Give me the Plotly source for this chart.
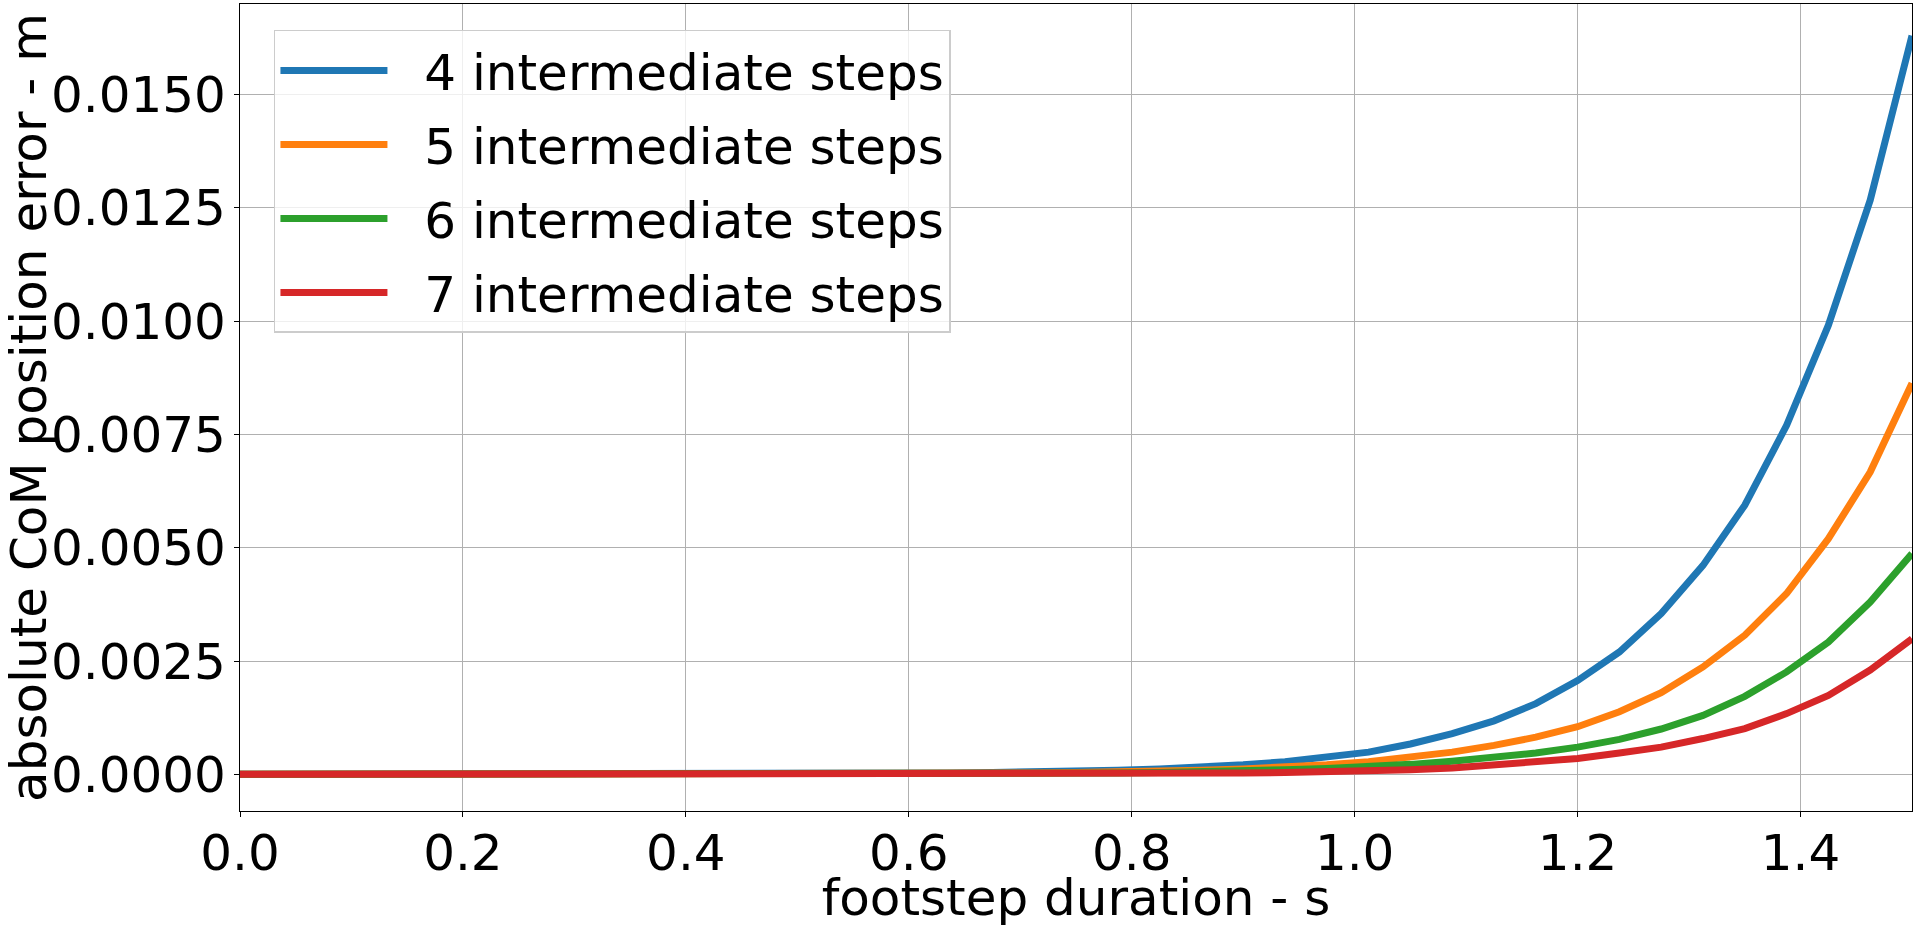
import plotly.graph_objects as go

# footstep duration (s)
x_duration = [0.0, 0.0375, 0.075, 0.1125, 0.15, 0.1875, 0.225, 0.2625, 0.3, 0.3375,
              0.375, 0.4125, 0.45, 0.4875, 0.525, 0.5625, 0.6, 0.6375, 0.675, 0.7125,
              0.75, 0.7875, 0.825, 0.8625, 0.9, 0.9375, 0.975, 1.0125, 1.05, 1.0875,
              1.125, 1.1625, 1.2, 1.2375, 1.275, 1.3125, 1.35, 1.3875, 1.425, 1.4625, 1.5]

err_4_steps = [0.0, 0.0, 0.0, 0.0, 0.0, 0.0, 0.0, 0.0, 0.0, 0.0,
               0.0, 0.0, 0.0, 0.00001, 0.00001, 0.00002, 0.00002, 0.00003, 0.00004, 0.00005,
               0.00007, 0.00009, 0.00012, 0.00016, 0.00021, 0.00028, 0.00037, 0.00049, 0.00067, 0.00090,
               0.00118, 0.00156, 0.00207, 0.00270, 0.00355, 0.00461, 0.00594, 0.00770, 0.00991, 0.01267,
               0.01630]

err_5_steps = [0.0, 0.0, 0.0, 0.0, 0.0, 0.0, 0.0, 0.0, 0.0, 0.0,
               0.0, 0.0, 0.0, 0.0, 0.0, 0.00001, 0.00001, 0.00001, 0.00002, 0.00003,
               0.00004, 0.00005, 0.00007, 0.00009, 0.00012, 0.00016, 0.00021, 0.00028, 0.00037, 0.00049,
               0.00064, 0.00082, 0.00105, 0.00138, 0.00180, 0.00237, 0.00307, 0.00399, 0.00520, 0.00667,
               0.00863]

err_6_steps = [0.0, 0.0, 0.0, 0.0, 0.0, 0.0, 0.0, 0.0, 0.0, 0.0,
               0.0, 0.0, 0.0, 0.0, 0.0, 0.0, 0.0, 0.00001, 0.00001, 0.00001,
               0.00002, 0.00003, 0.00004, 0.00005, 0.00007, 0.00010, 0.00013, 0.00017, 0.00022, 0.00029,
               0.00037, 0.00047, 0.00060, 0.00077, 0.00100, 0.00130, 0.00172, 0.00226, 0.00292, 0.00380,
               0.00487]

err_7_steps = [0.0, 0.0, 0.0, 0.0, 0.0, 0.0, 0.0, 0.0, 0.0, 0.0,
               0.0, 0.0, 0.0, 0.0, 0.0, 0.0, 0.0, 0.0, 0.0, 0.00001,
               0.00001, 0.00001, 0.00002, 0.00002, 0.00003, 0.00004, 0.00005, 0.00007, 0.00010, 0.00014,
               0.00020, 0.00027, 0.00035, 0.00047, 0.00060, 0.00079, 0.00101, 0.00134, 0.00174, 0.00230,
               0.00299]

series_names = ["4 intermediate steps", "5 intermediate steps",
                "6 intermediate steps", "7 intermediate steps"]
series_values = [err_4_steps, err_5_steps, err_6_steps, err_7_steps]
series_colors = ["#1f77b4", "#ff7f0e", "#2ca02c", "#d62728"]

y_tick_vals = [0.0, 0.0025, 0.005, 0.0075, 0.01, 0.0125, 0.015]
x_tick_vals = [0.0, 0.2, 0.4, 0.6, 0.8, 1.0, 1.2, 1.4]

FONT = "DejaVu Sans"
NBSP = "\u00a0"

fig = go.Figure()
for name, vals, col in zip(series_names, series_values, series_colors):
    fig.add_trace(go.Scatter(
        x=x_duration, y=vals, mode="lines", name=NBSP * 2 + name, legendgroup=name,
        line=dict(color=col, width=7),
    ))

axis_common = dict(
    showline=True, linecolor="black", linewidth=1.2, mirror=True,
    showgrid=True, gridcolor="#b0b0b0", gridwidth=1.1,
    ticks="outside", ticklen=5, tickwidth=1.2, tickcolor="black",
    tickfont=dict(family=FONT, size=50, color="black"),
    zeroline=False, automargin=False,
)

fig.update_layout(
    width=1920, height=927,
    margin=dict(l=240, r=8, t=4, b=116),
    paper_bgcolor="white", plot_bgcolor="white",
    font=dict(family=FONT, size=50, color="black"),
    xaxis=dict(
        range=[0.0, 1.5], tickvals=x_tick_vals, tickformat=".1f",
        ticklabelstandoff=-7,
        title=dict(text="footstep duration - s", font=dict(family=FONT, size=50)),
        **axis_common,
    ),
    yaxis=dict(
        range=[-0.000809, 0.016998], tickvals=y_tick_vals, tickformat=".4f",
        ticklabelstandoff=-2,
        title=dict(text="absolute CoM position error - m", font=dict(family=FONT, size=50)),
        **axis_common,
    ),
    legend=dict(
        x=0.0203, y=0.9678, xanchor="left", yanchor="top",
        bgcolor="rgba(255,255,255,0.8)", bordercolor="#cccccc", borderwidth=1.5,
        font=dict(family=FONT, size=50, color="black"),
        tracegroupgap=6, itemwidth=107,
    ),
)

fig.write_html(
    "out.html",
    config={"displayModeBar": False},
    post_script="document.body.style.margin='0px';document.body.style.overflow='hidden';",
)
